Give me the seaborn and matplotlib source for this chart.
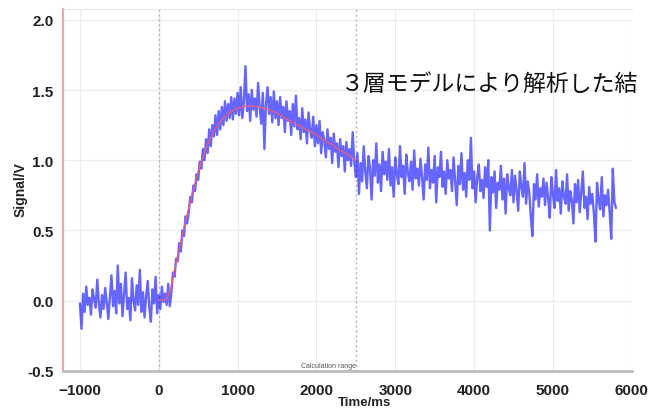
import numpy as np
import pandas as pd
import matplotlib
matplotlib.use("Agg")
import matplotlib.pyplot as plt
from matplotlib.ticker import MultipleLocator
import seaborn as sns

# measured signal, sampled every 20 ms from -1000 to 5800 ms
baseline = [
    -0.02, -0.20, 0.05, -0.08, 0.10, -0.03, 0.02, -0.10, 0.08, 0.01,
    -0.05, 0.15, -0.02, -0.12, 0.04, -0.06, 0.09, -0.01, -0.13, 0.03,
    0.18, -0.04, 0.07, -0.09, 0.25, -0.02, 0.12, -0.11, 0.05, 0.20,
    -0.06, 0.02, -0.14, 0.16, 0.00, -0.07, 0.11, -0.03, 0.22, -0.08,
    0.06, -0.12, 0.03, 0.14, -0.05, -0.15, 0.08, -0.02, 0.17, -0.09,
    0.04, -0.06, 0.10, -0.01, 0.05, -0.03, 0.12, -0.04,
]
rise = [
    0.06, 0.20, 0.17, 0.30, 0.28, 0.41, 0.35, 0.50, 0.46, 0.60,
    0.55, 0.63, 0.74, 0.70, 0.82, 0.78, 0.90, 0.86,
    0.99, 0.94, 1.08, 1.00, 1.15, 1.05, 1.22, 1.10, 1.25, 1.17,
    1.32, 1.18, 1.35, 1.22, 1.38, 1.25, 1.42, 1.28, 1.40, 1.30,
    1.45, 1.29, 1.44, 1.33, 1.48,
]
peak = [
    1.32, 1.52, 1.30, 1.42, 1.67, 1.35, 1.47, 1.28, 1.50, 1.36,
    1.44, 1.31, 1.55, 1.38, 1.26, 1.48, 1.08, 1.40, 1.52, 1.33,
    1.45, 1.27, 1.49, 1.30, 1.42,
    1.25, 1.45, 1.30, 1.38, 1.20, 1.42, 1.28, 1.35, 1.18, 1.40,
    1.24, 1.46, 1.22, 1.30, 1.15, 1.37, 1.20, 1.29, 1.12, 1.34,
    1.22, 1.16, 1.31, 1.10, 1.25,
    1.12, 1.28, 1.05, 1.20, 1.14, 1.02, 1.22, 1.08, 1.16, 0.98,
    1.19, 1.06, 1.12, 0.95, 1.15, 1.03, 1.10, 0.92, 1.13, 1.00,
    1.08, 0.96, 1.20, 0.99,
]
decay = [
    0.88, 1.05, 0.76, 0.98, 0.85, 1.10, 0.92, 0.80, 1.03, 0.95,
    0.72, 1.00, 0.89, 1.12, 0.84, 0.97, 0.78, 1.06, 0.90, 0.99,
    0.86, 1.08, 0.82, 0.95, 0.74, 1.02, 0.90, 0.83, 1.10, 0.88,
    0.96, 0.76, 1.04, 0.91, 0.85, 0.99, 0.79, 1.07, 0.87, 0.94,
    0.82, 1.01, 0.88, 0.72, 0.97, 0.86, 1.09, 0.80, 0.93, 0.84,
    1.03, 0.70, 0.95, 0.88, 1.06, 0.81, 0.92, 0.76, 1.00, 0.87,
    0.93, 0.78, 1.02, 0.85, 0.68, 0.96, 0.83, 1.05, 0.79, 0.91,
    0.74, 1.00, 0.86, 1.16, 0.80, 0.92, 0.70, 0.88, 0.97, 0.78,
    0.86, 0.73, 0.95, 0.81, 1.00, 0.50, 0.88, 0.77, 0.92, 0.66,
    0.84, 0.79, 0.96, 0.72, 0.87, 0.62, 0.90, 0.80, 0.75, 0.93,
    0.70, 0.89, 0.78, 0.64, 0.92, 0.81, 0.74, 0.98, 0.69, 0.85,
    0.77, 0.60, 0.46, 0.83, 0.72, 0.90, 0.67, 0.80, 0.74, 0.87,
    0.68, 0.84, 0.73, 0.59, 0.88, 0.76, 0.66, 0.93, 0.71, 0.80,
    0.62, 0.85, 0.74, 0.69, 0.90, 0.64, 0.78, 0.72, 0.55, 0.83,
    0.70, 0.86, 0.63, 0.77, 0.92, 0.66, 0.74, 0.58, 0.81, 0.69,
    0.76, 0.62, 0.42, 0.84, 0.71, 0.65, 0.88, 0.60, 0.75, 0.68,
    0.79, 0.63, 0.44, 0.94, 0.70, 0.66,
]
signal = baseline + rise + peak + decay
time_ms = np.arange(-1000, 5801, 20)

# three-layer model fit over the calculation range
fit_time = [0, 100, 150, 200, 300, 400, 500, 600, 700, 800, 900, 1000,
            1100, 1200, 1300, 1400, 1500, 1600, 1700, 1800, 1900, 2000,
            2100, 2200, 2300, 2400, 2500]
fit_value = [0.0, 0.01, 0.08, 0.22, 0.47, 0.71, 0.92, 1.09, 1.21, 1.29, 1.34, 1.37,
             1.385, 1.385, 1.375, 1.36, 1.335, 1.30, 1.27, 1.24, 1.21, 1.18,
             1.14, 1.11, 1.07, 1.04, 1.00]

calc_end = 2500
note = "３層モデルにより解析した結"

df = pd.DataFrame({"time": time_ms, "signal": signal})
fit = pd.DataFrame({"time": fit_time, "fit": fit_value})

sns.set_style("white")
plt.rcParams['font.family'] = ['Liberation Sans', 'DejaVu Sans']

fig = plt.figure(figsize=(6.56, 4.1), dpi=100)
ax = fig.add_axes([0.096, 0.093, 0.867, 0.883])

ax.grid(True, color="#ececec", lw=0.9)
ax.axvline(0, color="#b0b0b0", lw=1, ls=(0, (1.5, 2)), zorder=1)
ax.axvline(calc_end, color="#b0b0b0", lw=1, ls=(0, (1.5, 2)), zorder=1)

sns.lineplot(data=df, x="time", y="signal", ax=ax, estimator=None,
             color="#0000ff", alpha=0.6, lw=1.7, zorder=3)
sns.lineplot(data=fit, x="time", y="fit", ax=ax, estimator=None,
             color="#ff5a6e", alpha=0.85, lw=1.0, zorder=4)

ax.set_xlim(-1215, 6000)
ax.set_ylim(-0.5, 2.078)
ax.xaxis.set_major_locator(MultipleLocator(1000))
ax.xaxis.set_minor_locator(MultipleLocator(200))
ax.yaxis.set_major_locator(MultipleLocator(0.5))
ax.yaxis.set_minor_locator(MultipleLocator(0.1))
ax.yaxis.set_major_formatter(matplotlib.ticker.FormatStrFormatter("%.1f"))

ax.tick_params(axis="x", which="both", direction="out", length=2.5, width=1,
               color="#777777", labelsize=11, labelcolor="#222222", pad=6)
ax.tick_params(axis="y", which="major", direction="out", length=3, width=1,
               color="#6a7fe0", labelsize=11, labelcolor="#222222", pad=4)
ax.tick_params(axis="y", which="minor", direction="out", length=2.5, width=1,
               color="#888888")
for lab in ax.get_xticklabels() + ax.get_yticklabels():
    lab.set_fontweight("bold")

ax.spines["left"].set_color("#f4a2a8")
ax.spines["left"].set_linewidth(1.6)
ax.spines["bottom"].set_color("#bdbdbd")
ax.spines["bottom"].set_linewidth(2)
ax.spines["top"].set_color("#e6e6e6")
ax.spines["right"].set_visible(False)

ax.set_xlabel("")
ax.set_ylabel("")
fig.text(0.031, 0.537, "Signal/V", rotation=90, ha="center", va="center",
         fontsize=10, fontweight="bold", color="#222222")
fig.text(0.556, 0.002, "Time/ms", ha="center", va="bottom",
         fontsize=9.5, fontweight="bold", color="#222222")

ax.text(calc_end, -0.465, "Calculation range", ha="right", va="center",
        fontsize=5, color="#555555", zorder=5)
ax.text(2310, 1.55, note, ha="left", va="center", fontsize=16.5, color="#111111",
        family=["Noto Sans CJK JP", "DejaVu Sans"], clip_on=False, zorder=5)

fig.savefig("out.png", dpi=100)
